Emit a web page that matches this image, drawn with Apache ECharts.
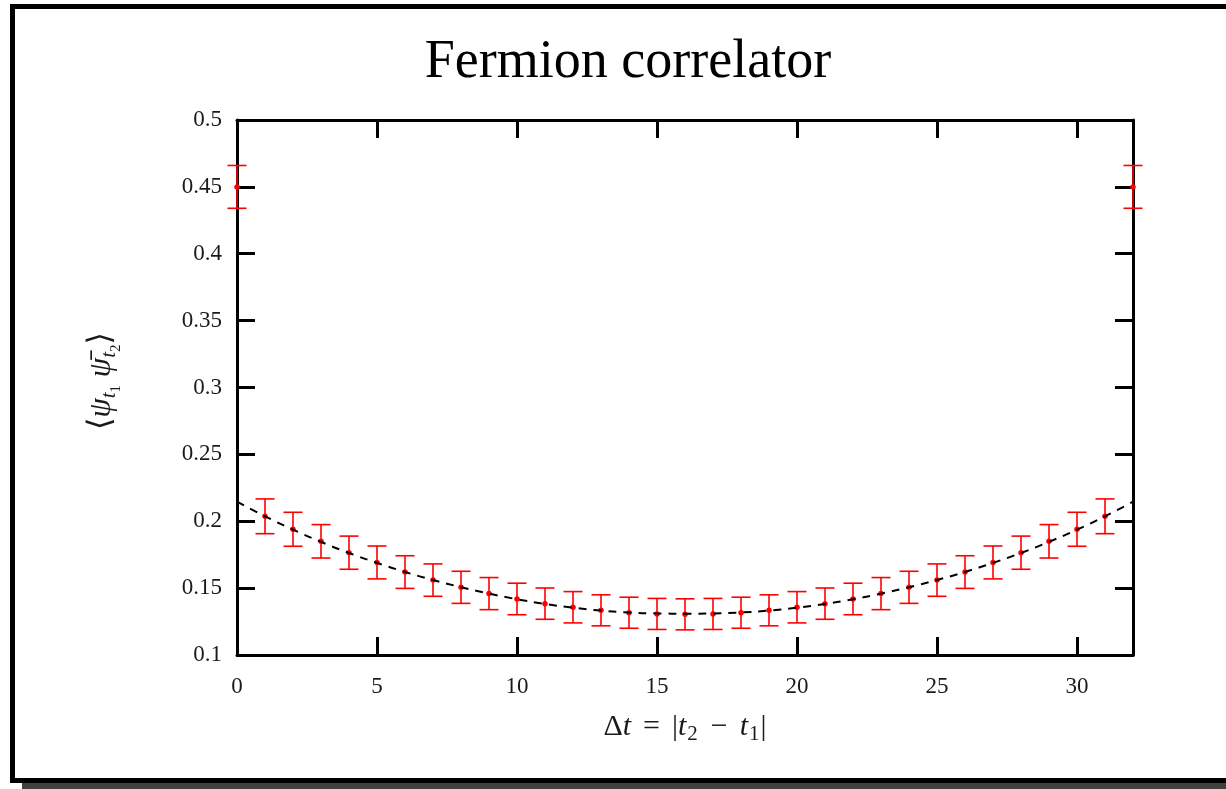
<!DOCTYPE html>
<html>
<head>
<meta charset="utf-8">
<script src="https://cdn.jsdelivr.net/npm/echarts@6/dist/echarts.min.js"></script>
<style>
  html, body { margin: 0; padding: 0; background: #fff; }
  #chart { width: 1226px; height: 789px; }
</style>
</head>
<body>
<div id="chart"></div>
<script>
// Time separations Δt on the periodic lattice (0 … 32)
const deltaT = [0, 1, 2, 3, 4, 5, 6, 7, 8, 9, 10, 11, 12, 13, 14, 15, 16,
                17, 18, 19, 20, 21, 22, 23, 24, 25, 26, 27, 28, 29, 30, 31, 32];

// Measured correlator <ψ ψ̄>
const correlator = [0.450, 0.2037, 0.1940, 0.1850, 0.1765, 0.1692, 0.1620, 0.1560, 0.1506,
                    0.1459, 0.1419, 0.1384, 0.1357, 0.1334, 0.1316, 0.1307, 0.1304,
                    0.1307, 0.1316, 0.1334, 0.1357, 0.1384, 0.1419, 0.1459, 0.1506,
                    0.1560, 0.1620, 0.1692, 0.1765, 0.1850, 0.1940, 0.2037, 0.450];

// Statistical errors of the correlator
const correlatorErr = [0.016, 0.0130, 0.0127, 0.0125, 0.0124, 0.0123, 0.0122, 0.0121, 0.0120,
                       0.0120, 0.0118, 0.0117, 0.0117, 0.0116, 0.0116, 0.0116, 0.0116,
                       0.0116, 0.0116, 0.0116, 0.0117, 0.0117, 0.0118, 0.0120, 0.0120,
                       0.0121, 0.0122, 0.0123, 0.0124, 0.0125, 0.0127, 0.0130, 0.016];

// Cosh fit evaluated on the lattice sites
const fitCurve = [0.2146, 0.2037, 0.1937, 0.1846, 0.1763, 0.1689, 0.1621, 0.1561, 0.1507,
                  0.1459, 0.1417, 0.1382, 0.1354, 0.1332, 0.1318, 0.1311, 0.1309,
                  0.1311, 0.1318, 0.1332, 0.1354, 0.1382, 0.1417, 0.1459, 0.1507,
                  0.1561, 0.1621, 0.1689, 0.1763, 0.1846, 0.1937, 0.2037, 0.2146];

const xRange = [0, 32], xStep = 5;
const yRange = [0.1, 0.5], yStep = 0.05;

const SERIF = "'Liberation Serif', 'DejaVu Serif', serif";
const INK = '#1a1a1a';

const chart = echarts.init(document.getElementById('chart'), null, { renderer: 'canvas' });

const axisLineStyle = { color: '#000', width: 3 };
const baseX = {
  type: 'value', min: xRange[0], max: xRange[1], interval: xStep,
  axisLine: { show: true, onZero: false, lineStyle: axisLineStyle },
  axisTick: { show: true, inside: true, length: 18, lineStyle: axisLineStyle },
  splitLine: { show: false }
};
const baseY = {
  type: 'value', min: yRange[0], max: yRange[1], interval: yStep,
  axisLine: { show: true, onZero: false, lineStyle: axisLineStyle },
  axisTick: { show: true, inside: true, length: 18, lineStyle: axisLineStyle },
  splitLine: { show: false }
};

const option = {
  animation: false,
  backgroundColor: '#fff',
  grid: { left: 237, right: 93, top: 120, bottom: 134, containLabel: false },
  xAxis: [
    Object.assign({}, baseX, {
      position: 'bottom',
      axisLabel: { show: true, margin: 20, fontFamily: SERIF, fontSize: 23, color: INK,
                   showMaxLabel: false }
    }),
    Object.assign({}, baseX, { position: 'top', axisLabel: { show: false } })
  ],
  yAxis: [
    Object.assign({}, baseY, {
      position: 'left',
      axisLabel: { show: true, margin: 15, fontFamily: SERIF, fontSize: 23, color: INK }
    }),
    Object.assign({}, baseY, { position: 'right', axisLabel: { show: false } })
  ],
  graphic: [
    // page frame with drop shadow
    { type: 'rect', z: -100, silent: true,
      shape: { x: 22, y: 12, width: 1300, height: 790 },
      style: { fill: '#404040' } },
    { type: 'rect', z: -99, silent: true,
      shape: { x: 12.5, y: 6.5, width: 1300, height: 774 },
      style: { fill: '#fff', stroke: '#000', lineWidth: 5 } },
    // title
    { type: 'text', z: 10, x: 628, y: 63,
      style: { text: 'Fermion correlator', fill: '#000', font: "54px " + SERIF,
               align: 'center', verticalAlign: 'middle' } },
    // x axis title
    { type: 'text', z: 10, x: 685, y: 727,
      style: {
        text: '{r|Δ}{i|t}{op|=}{r||}{i|t}{s|2}{op|−}{i|t}{s|1}{r||}',
        align: 'center', verticalAlign: 'middle', fill: INK,
        rich: {
          r: { fontFamily: SERIF, fontSize: 30, fill: INK },
          op: { fontFamily: SERIF, fontSize: 30, fill: INK, padding: [0, 12, 0, 12] },
          i: { fontFamily: SERIF, fontSize: 30, fontStyle: 'italic', fill: INK },
          s: { fontFamily: SERIF, fontSize: 21, fill: INK, padding: [15, 1, 0, 1] }
        }
      } },
    // y axis title (rotated)
    { type: 'text', z: 10, x: 102, y: 381, rotation: Math.PI / 2,
      style: {
        text: '{b|⟨}{g|ψ}{s|t}{ss|1}{g| ψ̄}{s|t}{ss|2}{b|⟩}',
        align: 'center', verticalAlign: 'middle', fill: INK,
        rich: {
          b: { fontFamily: "'DejaVu Serif', serif", fontSize: 32, fill: INK },
          g: { fontFamily: SERIF, fontSize: 31, fontStyle: 'italic', fill: INK },
          s: { fontFamily: SERIF, fontSize: 21, fontStyle: 'italic', fill: INK, padding: [15, 0, 0, 0] },
          ss: { fontFamily: SERIF, fontSize: 15, fill: INK, padding: [28, 0, 0, 0] }
        }
      } }
  ],
  series: [
    {
      name: 'errors',
      type: 'custom',
      xAxisIndex: 0, yAxisIndex: 0,
      clip: false,
      z: 3,
      data: deltaT.map((x, i) => [x, correlator[i], correlatorErr[i]]),
      renderItem: function (params, api) {
        const x = api.value(0), y = api.value(1), e = api.value(2);
        const hi = api.coord([x, y + e]);
        const lo = api.coord([x, y - e]);
        const half = 9.5;
        const st = { stroke: '#f00', lineWidth: 1.6 };
        return {
          type: 'group',
          children: [
            { type: 'line', shape: { x1: hi[0], y1: hi[1], x2: lo[0], y2: lo[1] }, style: st },
            { type: 'line', shape: { x1: hi[0] - half, y1: hi[1], x2: hi[0] + half, y2: hi[1] }, style: st },
            { type: 'line', shape: { x1: lo[0] - half, y1: lo[1], x2: lo[0] + half, y2: lo[1] }, style: st }
          ]
        };
      }
    },
    {
      name: 'correlator',
      type: 'scatter',
      xAxisIndex: 0, yAxisIndex: 0,
      symbol: 'circle', symbolSize: 5.5,
      itemStyle: { color: '#f00', opacity: 1 },
      z: 4,
      data: deltaT.map((x, i) => [x, correlator[i]])
    },
    {
      name: 'fit',
      type: 'line',
      xAxisIndex: 0, yAxisIndex: 0,
      smooth: true,
      showSymbol: false, symbol: 'none',
      lineStyle: { color: '#000', width: 2, type: [8, 7] },
      z: 5,
      data: deltaT.map((x, i) => [x, fitCurve[i]])
    }
  ]
};

chart.setOption(option);
</script>
</body>
</html>
